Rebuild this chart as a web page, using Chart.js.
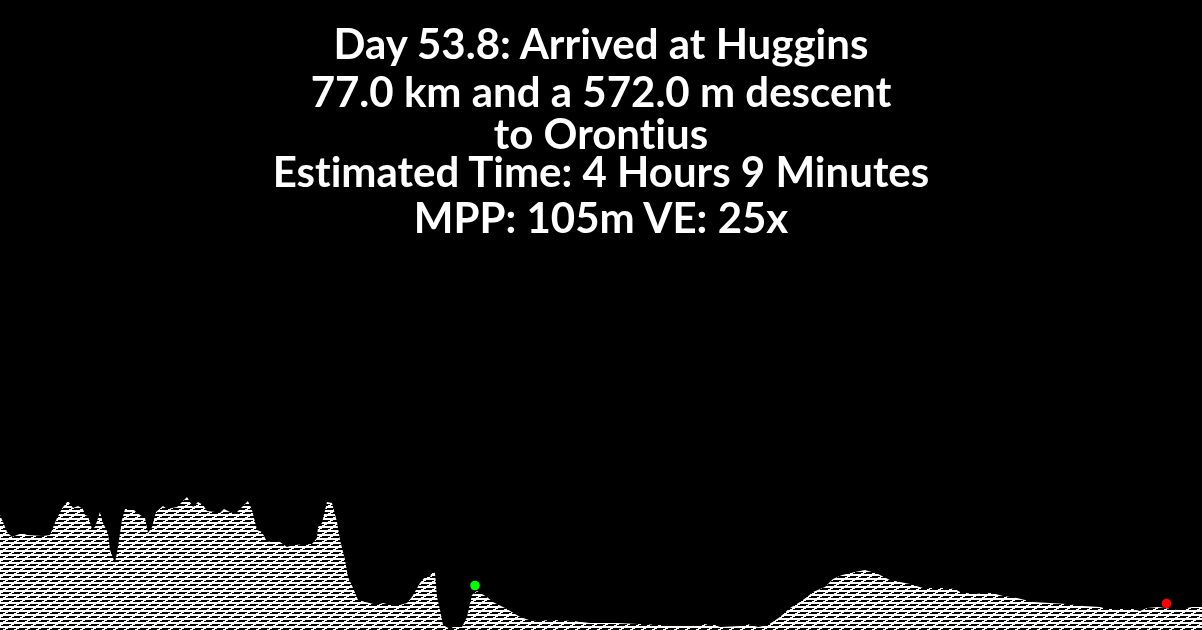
<!DOCTYPE html>
<html>
<head>
<meta charset="utf-8">
<title>Day 53.8</title>
<script src="https://cdn.jsdelivr.net/npm/chart.js@4"></script>
<style>
  html, body { margin: 0; padding: 0; background: #000; overflow: hidden; }
  #wrap { position: relative; width: 1202px; height: 630px; }
  #profile { position: absolute; left: 0; top: 0; }
  .line { position: absolute; left: 0; width: 1202px; text-align: center; color: #fff;
          font-family: Lato, sans-serif; font-weight: 700; font-size: 42px; line-height: 44px; white-space: nowrap;
          font-variant-ligatures: none; }
</style>
</head>
<body>
<div id="wrap"><canvas id="profile" width="1202" height="630"></canvas></div>
<script>
// distance along the track (picture px) and height above the bottom edge
const distance = [0,3,7,12,22,27,43,50,57,63,68,73,78,83,85,88,92,95,100,103,108,110,115,118,122,125,133,137,145,148,152,156,163,167,177,182,187,193,198,203,207,215,220,224,230,235,242,248,252,257,262,267,273,280,287,293,312,317,318,322,327,332,337,340,345,348,353,358,377,383,390,400,407,412,420,425,430,432,435,437,440,443,450,453,462,467,472,477,487,493,507,520,532,553,573,590,617,660,667,693,703,715,720,740,747,758,768,780,790,800,807,813,825,833,842,855,865,878,890,910,923,943,955,960,973,992,1003,1017,1033,1067,1083,1100,1107,1133,1140,1147,1158,1177,1192,1202];
const elevation = [115,108,98,93,97,95,94,95,112,123,129,122,124,121,115,114,101,103,118,107,97,80,67,83,110,121,121,117,112,97,103,118,124,121,123,128,133,123,128,125,119,118,117,121,118,116,123,129,120,100,98,88,89,88,83,85,86,92,103,107,128,127,108,90,70,53,42,30,25,27,25,25,27,33,47,53,53,58,57,33,20,5,1,3,3,13,35,39,33,28,21,13,9,10,9,7,7,5,4,4,6,5,3,4,6,3,5,13,22,28,33,38,43,51,55,58,60,56,50,46,42,42,41,38,36,37,34,32,28,26,24,23,21,21,19,22,23,20,23,23];

const startPoint = [475];
const startElevation = [44.5];
const endPoint = [1166.5];
const endElevation = [26.5];

const titleLines = [
  'Day 53.8: Arrived at Huggins',
  '77.0 km and a 572.0 m descent',
  'to Orontius',
  'Estimated Time: 4 Hours 9 Minutes',
  'MPP: 105m VE: 25x'
];
const titleCentres = [43, 91, 133, 171, 217];

const wrap = document.getElementById('wrap');
titleLines.forEach(function(t, i) {
  const d = document.createElement('div');
  d.className = 'line';
  d.textContent = t;
  d.style.top = (titleCentres[i] - 22) + 'px';
  wrap.appendChild(d);
});

// stepped white/black dash texture used for the terrain fill
function hatch() {
  const c = document.createElement('canvas');
  c.width = 11; c.height = 8;
  const g = c.getContext('2d');
  g.fillStyle = '#fff';
  g.fillRect(0, 0, 11, 8);
  g.fillStyle = '#000';
  [[0, 0], [5, 4], [-6, 4]].forEach(function(p) {
    g.fillRect(3 + p[0], p[1], 8, 1);
    g.fillRect(1 + p[0], p[1] + 1, 8, 1);
  });
  return g.createPattern(c, 'repeat');
}

function pairs(xs, ys) {
  return xs.map(function(x, i) { return { x: x, y: ys[i] }; });
}

new Chart(document.getElementById('profile'), {
  type: 'line',
  data: {
    datasets: [
      { data: pairs(startPoint, startElevation), pointRadius: 4.8, pointBackgroundColor: '#00ff00', pointBorderWidth: 0, showLine: false, order: 1 },
      { data: pairs(endPoint, endElevation), pointRadius: 4.8, pointBackgroundColor: '#ff0000', pointBorderWidth: 0, showLine: false, order: 2 },
      { data: pairs(distance, elevation), pointRadius: 0, borderWidth: 0, tension: 0, fill: 'origin', backgroundColor: hatch(), order: 3 }
    ]
  },
  options: {
    responsive: false,
    animation: false,
    devicePixelRatio: 1,
    layout: { padding: 0, autoPadding: false },
    plugins: { legend: { display: false }, tooltip: { enabled: false } },
    scales: {
      x: { type: 'linear', min: 0, max: 1202, display: false },
      y: { min: 0, max: 630, display: false }
    }
  }
});
</script>
</body>
</html>
